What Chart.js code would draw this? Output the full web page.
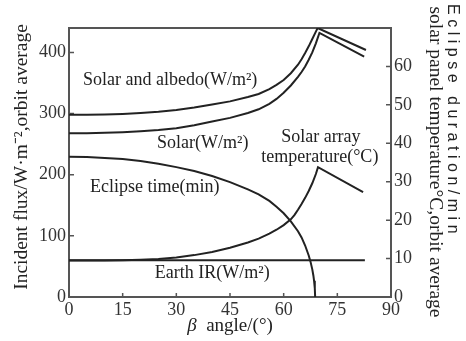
<!DOCTYPE html>
<html><head><meta charset="utf-8">
<script src="https://cdn.jsdelivr.net/npm/chart.js@4/dist/chart.umd.min.js"></script>
<style>html,body{margin:0;padding:0;background:#fff}#wrap{width:466px;height:341px}</style>
</head><body><div id="wrap"><canvas id="c" width="466" height="341"></canvas></div>
<script>
// ---- data ----
const betaSolarAlbedo = [0, 5, 10, 15, 20, 25, 30, 35, 40, 45, 50, 53, 56, 58, 60, 62, 64, 65, 66, 67, 68, 69, 69.5, 83];
const solarAlbedo     = [298, 298, 298.5, 299.5, 301, 303, 306, 310, 315, 320, 327, 332, 340, 347, 355, 366, 380, 389, 399, 410, 422, 434, 440, 404];
const betaSolar = [0, 5, 10, 15, 20, 25, 30, 35, 40, 45, 50, 53, 56, 58, 60, 62, 64, 65, 66, 67, 68, 69, 70, 82.5];
const solar     = [268, 268, 268.5, 269.5, 271, 273, 276, 281, 287, 293, 301, 307, 316, 324, 334, 346, 360, 368, 377, 388, 400, 415, 432, 393];
const betaEclipse = [0, 5, 10, 15, 20, 25, 30, 35, 40, 45, 50, 53, 56, 58, 60, 62, 64, 65, 66, 67, 67.5, 68, 68.3, 68.5, 68.7, 68.8];
const eclipseMin  = [36.5, 36.4, 36.2, 35.9, 35.4, 34.7, 33.8, 32.8, 31.5, 29.9, 28.0, 26.7, 25.0, 23.5, 21.8, 19.7, 17.1, 15.5, 13.4, 10.8, 9.2, 7.2, 5.6, 4.2, 2.3, 0];
const betaTemp  = [0, 10, 15, 20, 25, 30, 35, 40, 45, 50, 53, 56, 58, 60, 62, 63, 64, 65, 66, 67, 68, 69, 69.6, 82.2];
const arrayTemp = [9.5, 9.5, 9.55, 9.7, 9.9, 10.3, 10.9, 11.7, 12.8, 14.2, 15.2, 16.5, 17.5, 18.7, 20.2, 21.3, 22.7, 24.2, 25.8, 27.6, 29.6, 32.0, 33.8, 27.3];
const betaIR  = [0, 82.7];
const earthIR = [60, 60];
const xTicks = [0, 15, 30, 45, 60, 75, 90];
const leftTicks = [0, 100, 200, 300, 400];
const rightTicks = [0, 10, 20, 30, 40, 50, 60];
const labels = [
  {text: 'Solar and albedo(W/m²)', x: 3.9, y: 355, align: 'left'},
  {text: 'Solar(W/m²)', x: 24.6, y: 252, align: 'left'},
  {text: 'Solar array', x: 70.4, y: 262, align: 'center'},
  {text: 'temperature(°C)', x: 70.1, y: 229, align: 'center'},
  {text: 'Eclipse time(min)', x: 5.9, y: 180, align: 'left'},
  {text: 'Earth IR(W/m²)', x: 24, y: 39, align: 'left'}
];

const pts = (xs, ys) => xs.map((x, i) => ({x, y: ys[i]}));
const SERIF = '"Liberation Serif", "Times New Roman", serif';
const INK = '#222';

const ds = (label, xs, ys, axis) => ({
  label, data: pts(xs, ys), yAxisID: axis,
  borderColor: INK, borderWidth: 2, pointRadius: 0, tension: 0, fill: false
});

const deco = {
  id: 'deco',
  beforeDatasetsDraw(chart) {
    const {ctx, chartArea: a, scales} = chart;
    ctx.save();
    ctx.strokeStyle = '#555';
    ctx.lineWidth = 2;
    ctx.strokeRect(a.left, a.top, a.right - a.left, a.bottom - a.top);
    ctx.lineWidth = 1.5;
    ctx.beginPath();
    xTicks.forEach(v => { const p = scales.x.getPixelForValue(v); ctx.moveTo(p, a.bottom); ctx.lineTo(p, a.bottom - 4); });
    leftTicks.forEach(v => { const p = scales.y.getPixelForValue(v); ctx.moveTo(a.left, p); ctx.lineTo(a.left + 5, p); });
    rightTicks.forEach(v => { const p = scales.y1.getPixelForValue(v); ctx.moveTo(a.right, p); ctx.lineTo(a.right - 5, p); });
    ctx.stroke();
    ctx.restore();
  },
  afterDraw(chart) {
    const {ctx, chartArea: a, scales} = chart;
    ctx.save();
    ctx.fillStyle = INK;
    ctx.font = '18px ' + SERIF;
    ctx.textBaseline = 'middle';
    labels.forEach(l => {
      ctx.textAlign = l.align;
      ctx.fillText(l.text, scales.x.getPixelForValue(l.x), scales.y.getPixelForValue(l.y));
    });
    // x title with italic beta
    const cx = (a.left + a.right) / 2, cy = 326;
    ctx.font = 'italic 19px ' + SERIF;
    const w1 = ctx.measureText('β').width;
    ctx.font = '19px ' + SERIF;
    const rest = '  angle/(°)';
    const w2 = ctx.measureText(rest).width;
    const sx = cx - (w1 + w2) / 2;
    ctx.textAlign = 'left';
    ctx.font = 'italic 19px ' + SERIF;
    ctx.fillText('β', sx, cy);
    ctx.font = '19px ' + SERIF;
    ctx.fillText(rest, sx + w1, cy);
    // left title
    ctx.save();
    ctx.translate(22, 157);
    ctx.rotate(-Math.PI / 2);
    ctx.textAlign = 'center';
    ctx.font = '19.5px ' + SERIF;
    ctx.fillText('Incident flux/W·m⁻²,orbit average', 0, 0);
    ctx.restore();
    // right titles
    ctx.save();
    ctx.translate(452, 121);
    ctx.rotate(Math.PI / 2);
    ctx.textAlign = 'center';
    ctx.font = '16px "Liberation Sans", Arial, sans-serif';
    if ('letterSpacing' in ctx) ctx.letterSpacing = '4.5px';
    ctx.fillText('Eclipse duration/min', 0, 0);
    ctx.restore();
    ctx.save();
    ctx.translate(435, 162);
    ctx.rotate(Math.PI / 2);
    ctx.textAlign = 'center';
    ctx.font = '19.5px ' + SERIF;
    ctx.fillText('solar panel temperature°C,orbit average', 0, 0);
    ctx.restore();
    ctx.restore();
  }
};

const tickFont = {family: SERIF, size: 18};
new Chart(document.getElementById('c'), {
  type: 'line',
  data: {
    datasets: [
      ds('Solar and albedo', betaSolarAlbedo, solarAlbedo, 'y'),
      ds('Solar', betaSolar, solar, 'y'),
      ds('Earth IR', betaIR, earthIR, 'y'),
      ds('Eclipse time', betaEclipse, eclipseMin, 'y1'),
      ds('Solar array temperature', betaTemp, arrayTemp, 'y1')
    ]
  },
  options: {
    responsive: false, animation: false, devicePixelRatio: 1,
    layout: {padding: {top: 28, left: 0, right: 0, bottom: 0}},
    plugins: {legend: {display: false}, tooltip: {enabled: false}},
    scales: {
      x: {
        type: 'linear', min: 0, max: 90,
        afterBuildTicks: s => { s.ticks = xTicks.map(v => ({value: v})); },
        afterFit: s => { s.height = 44; },
        grid: {display: false, drawTicks: false, tickLength: 0},
        border: {display: false},
        ticks: {font: tickFont, color: '#333', padding: 2, maxRotation: 0, autoSkip: false}
      },
      y: {
        position: 'left', min: 0, max: 440,
        afterBuildTicks: s => { s.ticks = leftTicks.map(v => ({value: v})); },
        afterFit: s => { s.width = 69; },
        grid: {display: false, drawTicks: false, tickLength: 0},
        border: {display: false},
        ticks: {font: tickFont, color: '#333', padding: 3}
      },
      y1: {
        position: 'right', min: 0, max: 70,
        afterBuildTicks: s => { s.ticks = rightTicks.map(v => ({value: v})); },
        afterFit: s => { s.width = 75; },
        grid: {display: false, drawTicks: false, tickLength: 0},
        border: {display: false},
        ticks: {font: tickFont, color: '#333', padding: 3}
      }
    }
  },
  plugins: [deco]
});
</script>
</body></html>
